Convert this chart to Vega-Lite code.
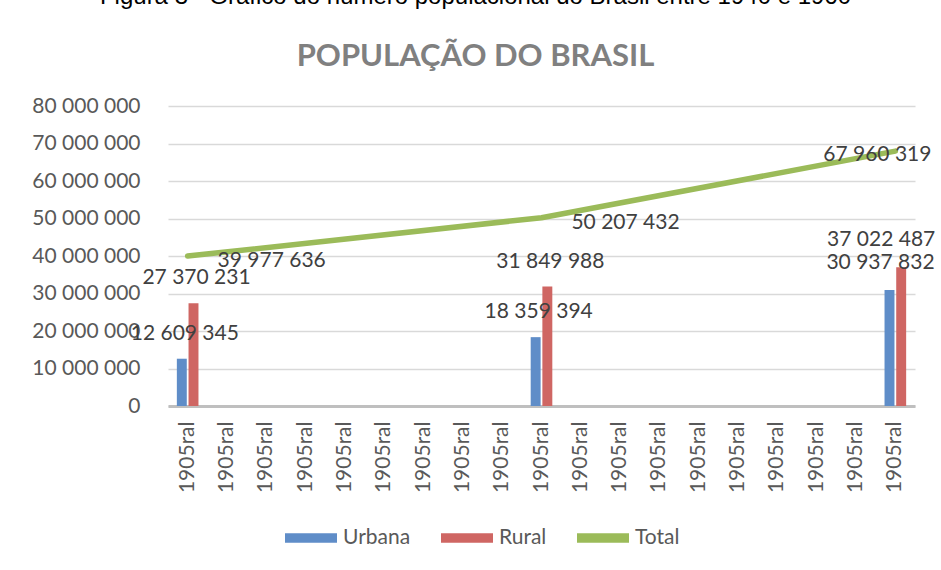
{
  "$schema": "https://vega.github.io/schema/vega-lite/v6.json",
  "width": 747,
  "height": 300,
  "autosize": {"type": "none"},
  "padding": {"left": 168, "top": 106, "right": 26, "bottom": 164},
  "background": "white",
  "title": {
    "text": "Figura 3 - Gráfico do número populacional do Brasil entre 1940 e 1960",
    "subtitle": "POPULAÇÃO DO BRASIL",
    "anchor": "middle",
    "frame": "group",
    "dx": -66,
    "offset": 23,
    "font": "Liberation Sans",
    "fontSize": 24,
    "fontWeight": "normal",
    "color": "#000000",
    "subtitleFont": "Lato",
    "subtitleFontSize": 31,
    "subtitleFontWeight": "bold",
    "subtitleColor": "#808080",
    "subtitlePadding": 33
  },
  "data": {
    "values": [
      {"cat": 1, "ano": "1940", "serie": "Urbana", "valor": 12609345},
      {"cat": 1, "ano": "1940", "serie": "Rural", "valor": 27370231},
      {"cat": 1, "ano": "1940", "serie": "Total", "valor": 39977636},
      {"cat": 10, "ano": "1950", "serie": "Urbana", "valor": 18359394},
      {"cat": 10, "ano": "1950", "serie": "Rural", "valor": 31849988},
      {"cat": 10, "ano": "1950", "serie": "Total", "valor": 50207432},
      {"cat": 19, "ano": "1960", "serie": "Urbana", "valor": 30937832},
      {"cat": 19, "ano": "1960", "serie": "Rural", "valor": 37022487},
      {"cat": 19, "ano": "1960", "serie": "Total", "valor": 67960319}
    ]
  },
  "encoding": {
    "x": {
      "field": "cat",
      "type": "ordinal",
      "scale": {"domain": [1,2,3,4,5,6,7,8,9,10,11,12,13,14,15,16,17,18,19], "paddingInner": 0.45, "paddingOuter": 0.225},
      "axis": {
        "title": null,
        "labelExpr": "'1905ral'",
        "labelAngle": -90,
        "labelFont": "Lato",
        "labelFontSize": 21,
        "labelColor": "#595959",
        "labelPadding": 15,
        "ticks": false,
        "domainColor": "#bfbfbf",
        "domainWidth": 3,
        "grid": false
      }
    },
    "y": {
      "field": "valor",
      "type": "quantitative",
      "scale": {"domain": [0, 80000000], "nice": false},
      "axis": {
        "title": null,
        "values": [0, 10000000, 20000000, 30000000, 40000000, 50000000, 60000000, 70000000, 80000000],
        "format": ",d",
        "labelFont": "Lato",
        "labelFontSize": 21,
        "labelColor": "#595959",
        "labelPadding": 28,
        "domain": false,
        "ticks": false,
        "gridColor": "#d9d9d9",
        "gridWidth": 1.5
      }
    }
  },
  "layer": [
    {
      "transform": [{"filter": "datum.serie !== 'Total'"}],
      "mark": {"type": "bar"},
      "encoding": {
        "xOffset": {"field": "serie", "type": "nominal", "scale": {"domain": ["Urbana", "Rural"], "paddingInner": 0.15}},
        "color": {
          "field": "serie",
          "type": "nominal",
          "scale": {"domain": ["Urbana", "Rural", "Total"], "range": ["#5f8dc8", "#cf6663", "#9bbb59"]},
          "legend": {
            "title": null,
            "orient": "none",
            "direction": "horizontal",
            "legendX": 117,
            "legendY": 406,
            "symbolType": "M-1,-0.18H1V0.18H-1Z",
            "symbolSize": 2704,
            "symbolStrokeWidth": 0,
            "labelFont": "Lato",
            "labelFontSize": 21,
            "labelColor": "#595959",
            "labelOffset": 6,
            "columnPadding": 30,
            "encode": {
              "symbols": {
                "update": {
                  "fill": {"scale": "color", "field": "value"},
                  "stroke": {"value": "transparent"},
                  "opacity": {"value": 1},
                  "fillOpacity": {"value": 1}
                }
              }
            }
          }
        }
      }
    },
    {
      "transform": [{"filter": "datum.serie === 'Total'"}],
      "mark": {"type": "line", "interpolate": "linear", "strokeWidth": 5.5, "strokeCap": "round", "strokeJoin": "round"},
      "encoding": {
        "color": {"field": "serie", "type": "nominal"}
      }
    },
    {
      "transform": [{"filter": "datum.serie !== 'Total' && datum.ano !== '1960'"}],
      "mark": {"type": "text", "font": "Lato", "fontSize": 21, "color": "#404040", "dx": 3, "dy": -25, "baseline": "middle"},
      "encoding": {
        "xOffset": {"field": "serie", "type": "nominal"},
        "text": {"field": "valor", "type": "quantitative", "format": ",d"}
      }
    },
    {
      "transform": [{"filter": "datum.serie === 'Urbana' && datum.ano === '1960'"}],
      "mark": {"type": "text", "font": "Lato", "fontSize": 21, "color": "#404040", "dx": -9, "dy": -27, "baseline": "middle"},
      "encoding": {
        "xOffset": {"field": "serie", "type": "nominal"},
        "text": {"field": "valor", "type": "quantitative", "format": ",d"}
      }
    },
    {
      "transform": [{"filter": "datum.serie === 'Rural' && datum.ano === '1960'"}],
      "mark": {"type": "text", "font": "Lato", "fontSize": 21, "color": "#404040", "dx": -20, "dy": -27, "baseline": "middle"},
      "encoding": {
        "xOffset": {"field": "serie", "type": "nominal"},
        "text": {"field": "valor", "type": "quantitative", "format": ",d"}
      }
    },
    {
      "transform": [{"filter": "datum.serie === 'Total' && datum.ano !== '1960'"}],
      "mark": {"type": "text", "font": "Lato", "fontSize": 21, "color": "#404040", "dx": 84, "dy": 5, "baseline": "middle"},
      "encoding": {
        "text": {"field": "valor", "type": "quantitative", "format": ",d"}
      }
    },
    {
      "transform": [{"filter": "datum.serie === 'Total' && datum.ano === '1960'"}],
      "mark": {"type": "text", "font": "Lato", "fontSize": 21, "color": "#404040", "dx": -18, "dy": 4, "baseline": "middle"},
      "encoding": {
        "text": {"field": "valor", "type": "quantitative", "format": ",d"}
      }
    }
  ],
  "config": {
    "locale": {"number": {"decimal": ",", "thousands": " ", "grouping": [3], "currency": ["R$", ""]}},
    "view": {"stroke": null}
  }
}
